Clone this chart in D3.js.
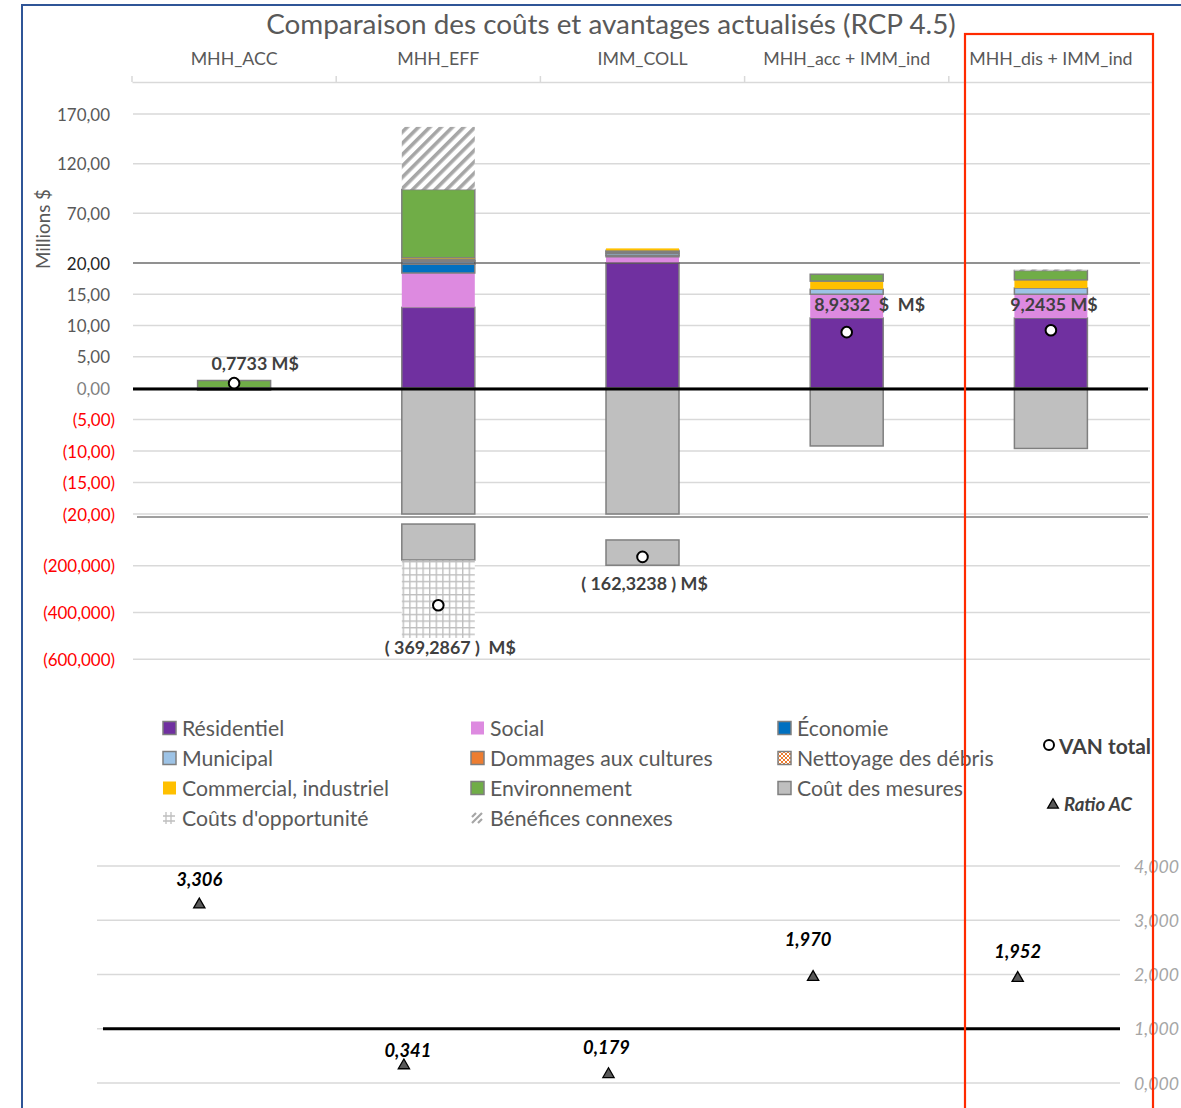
<!DOCTYPE html>
<html><head><meta charset="utf-8">
<script src="https://cdn.jsdelivr.net/npm/d3@7"></script>
<style>body{margin:0;background:#fff} svg{display:block} text{white-space:pre}</style>
</head><body>
<svg id="c" width="1181" height="1108"></svg>
<script>
// ---------------- DATA ----------------
const categories = ["MHH_ACC", "MHH_EFF", "IMM_COLL", "MHH_acc + IMM_ind", "MHH_dis + IMM_ind"];
const residentiel       = [0,    12.9, 20.0, 11.2, 11.2];
const social            = [0,     5.5,  6.3,  3.8,  3.8];
const economie          = [0,     1.4,  1.5,  0,    0];
const municipal         = [0,     2.0,  2.0,  0.8,  1.0];
const dommages          = [0,     0.8,  1.5,  0,    0];
const nettoyage         = [0,     1.4,  1.4,  0,    0];
const commercial        = [0,     1.2,  2.0,  1.3,  1.3];
const environnement     = [1.2,  68.8,  0,    1.1,  1.5];
const beneficesConnexes = [0,    63.0,  0,    0,    0.15];
const coutMesures       = [0.34, 175.6, 198.0, 9.2, 9.6];
const coutsOpportunite  = [0,   333.0,  0,    0,    0];
const lowerPanelFrom    = [null, -22, -90, null, null];
const vanTotal   = [0.7733, -369.2867, -162.3238, 8.9332, 9.2435];
const vanLabels  = ["0,7733 M$", "( 369,2867 )  M$", "( 162,3238 ) M$", "8,9332  $  M$", "9,2435 M$"];
const ratioAC    = [3.306, 0.341, 0.179, 1.970, 1.952];
const mainTicks  = [170, 120, 70, 20, 15, 10, 5, 0, -5, -10, -15, -20];
const lowerTicks = [-200, -400, -600];
const ratioTicks = [0, 1, 2, 3, 4];
const legendNames = {
  residentiel: "Résidentiel", social: "Social", economie: "Économie",
  municipal: "Municipal", dommages: "Dommages aux cultures", nettoyage: "Nettoyage des débris",
  commercial: "Commercial, industriel", environnement: "Environnement", cout: "Coût des mesures",
  opportunite: "Coûts d'opportunité", benefices: "Bénéfices connexes"
};
const title = "Comparaison des coûts et avantages actualisés (RCP 4.5)";
const yTitle = "Millions $";

// ---------------- LAYOUT / STYLE ----------------
const FONT = "Lato, 'Open Sans', sans-serif";
const svg = d3.select("#c");
const defs = svg.append("defs");
const STROKE = "#7f7f7f";

function fit(text, weight, style, target) {
  const t = svg.append("text").attr("font-family", FONT).attr("font-size", 100)
    .attr("font-weight", weight).attr("font-style", style).text(text);
  const w = t.node().getComputedTextLength(); t.remove();
  return 100 * target / w;
}

// patterns
const ph = defs.append("pattern").attr("id", "pHatch").attr("patternUnits", "userSpaceOnUse")
  .attr("width", 8).attr("height", 8).attr("patternTransform", "rotate(45)");
ph.append("rect").attr("width", 8).attr("height", 8).attr("fill", "#fff");
ph.append("rect").attr("width", 3.6).attr("height", 8).attr("fill", "#a6a6a6");
const pg = defs.append("pattern").attr("id", "pGrid").attr("patternUnits", "userSpaceOnUse")
  .attr("width", 6.6).attr("height", 6.6);
pg.append("rect").attr("width", 6.6).attr("height", 6.6).attr("fill", "#fff");
pg.append("rect").attr("width", 1.4).attr("height", 6.6).attr("fill", "#bfbfbf");
pg.append("rect").attr("width", 6.6).attr("height", 1.4).attr("fill", "#bfbfbf");
const pn = defs.append("pattern").attr("id", "pNet").attr("patternUnits", "userSpaceOnUse")
  .attr("width", 4).attr("height", 4);
pn.append("rect").attr("width", 4).attr("height", 4).attr("fill", "#fff");
pn.append("path").attr("d", "M0,0L4,4M4,0L0,4").attr("stroke", "#ed7d31").attr("stroke-width", 1);

const styles = {
  residentiel: { fill: "#7030a0", stroke: true },
  social: { fill: "#dd8ae0", stroke: false },
  economie: { fill: "#0070c0", stroke: true },
  municipal: { fill: "#9dc3e6", stroke: true },
  dommages: { fill: "#ed7d31", stroke: true },
  nettoyage: { fill: "url(#pNet)", stroke: true },
  commercial: { fill: "#ffc000", stroke: false },
  environnement: { fill: "#70ad47", stroke: true },
  benefices: { fill: "url(#pHatch)", stroke: false },
  cout: { fill: "#bfbfbf", stroke: true },
  opportunite: { fill: "url(#pGrid)", stroke: false }
};

// scales
const x = d3.scaleBand().domain(categories).range([132, 1153]);
const barW = 73;
const barX = c => x(c) + (x.bandwidth() - barW) / 2;
const yMain = d3.scaleLinear().domain([-20, 0, 20, 170]).range([514, 388, 263, 114]).clamp(true);
const yLow = d3.scaleLinear().domain([0, -600]).range([518.9, 659.3]);
const xR = d3.scaleBand().domain(categories).range([97, 1120]);
const yR = d3.scaleLinear().domain([0, 4]).range([1083, 866]);

const fmt2 = v => d3.format(".2f")(Math.abs(v)).replace(".", ",");
const fmt3 = v => d3.format(".3f")(Math.abs(v)).replace(".", ",");

// sizes
const fsTitle = fit(title, "normal", "normal", 690);
const fsCat = fit("MHH_acc + IMM_ind", "normal", "normal", 167);
const fsTick = fit("170,00", "normal", "normal", 53);
const fsLeg = fit("Commercial, industriel", "normal", "normal", 207);
const fsVan = fit("( 369,2867 )  M$", "bold", "normal", 131);
const fsRatio = fit("3,306", "bold", "italic", 46);
const fsRAxis = fit("4,000", "normal", "italic", 45);
const fsMil = fit(yTitle, "normal", "normal", 80);

// ---------------- TITLE & HEADER ----------------
svg.append("text").attr("x", 611).attr("y", 23).attr("text-anchor", "middle")
  .attr("dominant-baseline", "central").attr("font-family", FONT).attr("font-size", fsTitle)
  .attr("fill", "#595959").text(title);

const gTop = svg.append("g").attr("transform", "translate(0,82)");
gTop.call(d3.axisTop(x).tickSize(0).tickPadding(0).tickFormat(() => ""));
gTop.select(".domain").attr("stroke", "#d9d9d9").attr("stroke-width", 1.5);
gTop.selectAll(".bnd").data(categories.concat(["end"])).join("line").attr("class", "bnd")
  .attr("x1", d => d === "end" ? 1153 : x(d)).attr("x2", d => d === "end" ? 1153 : x(d))
  .attr("y1", -6).attr("y2", 0).attr("stroke", "#d9d9d9").attr("stroke-width", 1.5);
svg.selectAll(".cat").data(categories).join("text").attr("class", "cat")
  .attr("x", d => x(d) + x.bandwidth() / 2).attr("y", 58).attr("text-anchor", "middle")
  .attr("dominant-baseline", "central").attr("font-family", FONT).attr("font-size", fsCat)
  .attr("fill", "#595959").text(d => d);

// ---------------- MAIN AXES / GRID ----------------
const gGrid = svg.append("g");
gGrid.selectAll(".gm").data(mainTicks).join("line")
  .attr("x1", 133).attr("x2", 1150).attr("y1", d => yMain(d)).attr("y2", d => yMain(d))
  .attr("stroke", "#d9d9d9").attr("stroke-width", 1.5);
gGrid.selectAll(".gl").data(lowerTicks).join("line")
  .attr("x1", 133).attr("x2", 1150).attr("y1", d => yLow(d)).attr("y2", d => yLow(d))
  .attr("stroke", "#d9d9d9").attr("stroke-width", 1.5);

const gAx = svg.append("g").attr("font-family", FONT).attr("font-size", fsTick);
gAx.selectAll(".tm").data(mainTicks).join("text")
  .attr("x", d => d < 0 ? 115 : 110).attr("y", d => yMain(d)).attr("text-anchor", "end")
  .attr("dominant-baseline", "central")
  .attr("fill", d => d < 0 ? "#ff0000" : d === 20 ? "#262626" : d === 0 ? "#7f7f7f" : "#595959")
  .text(d => d < 0 ? "(" + fmt2(d) + ")" : fmt2(d));
gAx.selectAll(".tl").data(lowerTicks).join("text")
  .attr("x", 115).attr("y", d => yLow(d)).attr("text-anchor", "end")
  .attr("dominant-baseline", "central").attr("fill", "#ff0000")
  .text(d => "(" + fmt3(d) + ")");
svg.append("text").attr("transform", "translate(43,229) rotate(-90)").attr("text-anchor", "middle")
  .attr("dominant-baseline", "central").attr("font-family", FONT).attr("font-size", fsMil)
  .attr("fill", "#595959").text(yTitle);

// ---------------- BARS ----------------
const benefitKeys = ["residentiel", "social", "economie", "municipal", "dommages", "nettoyage", "commercial", "environnement", "benefices"];
const src = { residentiel, social, economie, municipal, dommages, nettoyage, commercial, environnement, benefices: beneficesConnexes };
const rows = categories.map((c, i) => {
  const r = { cat: c };
  benefitKeys.forEach(k => r[k] = src[k][i]);
  return r;
});
const series = d3.stack().keys(benefitKeys)(rows);
const gBars = svg.append("g");
series.forEach(s => {
  const st = styles[s.key];
  gBars.selectAll(null).data(s.filter(d => d[1] - d[0] > 0)).join("rect")
    .attr("x", d => barX(d.data.cat)).attr("width", barW)
    .attr("y", d => yMain(d[1])).attr("height", d => yMain(d[0]) - yMain(d[1]))
    .attr("fill", st.fill).attr("stroke", st.stroke ? STROKE : "none").attr("stroke-width", 1.5);
});
// costs (middle panel)
gBars.selectAll(".cm").data(categories).join("rect")
  .attr("x", d => barX(d)).attr("width", barW)
  .attr("y", yMain(0)).attr("height", (d, i) => yMain(-coutMesures[i]) - yMain(0))
  .attr("fill", styles.cout.fill).attr("stroke", STROKE).attr("stroke-width", 1.5);
// costs (lower panel)
const lowRows = categories.map((c, i) => ({ c, from: lowerPanelFrom[i], cost: coutMesures[i], opp: coutsOpportunite[i] }))
  .filter(d => d.from !== null);
gBars.selectAll(".cl").data(lowRows).join("rect")
  .attr("x", d => barX(d.c)).attr("width", barW)
  .attr("y", d => yLow(d.from)).attr("height", d => yLow(-d.cost) - yLow(d.from))
  .attr("fill", styles.cout.fill).attr("stroke", STROKE).attr("stroke-width", 1.5);
gBars.selectAll(".op").data(lowRows.filter(d => d.opp > 0)).join("rect")
  .attr("x", d => barX(d.c)).attr("width", barW)
  .attr("y", d => yLow(-d.cost) + 0.75).attr("height", d => yLow(-d.cost - d.opp) - yLow(-d.cost) - 0.75)
  .attr("fill", styles.opportunite.fill);

// boundary lines
svg.append("line").attr("x1", 133).attr("x2", 1140).attr("y1", yMain(20)).attr("y2", yMain(20))
  .attr("stroke", "#404040").attr("stroke-width", 1);
svg.append("line").attr("x1", 133).attr("x2", 1148).attr("y1", yMain(0) + 1).attr("y2", yMain(0) + 1)
  .attr("stroke", "#000").attr("stroke-width", 3);
svg.append("line").attr("x1", 137).attr("x2", 1148).attr("y1", yMain(-20) + 3).attr("y2", yMain(-20) + 3)
  .attr("stroke", "#404040").attr("stroke-width", 1);

// ---------------- VAN DOTS & LABELS ----------------
const vanLabelOffset = [[21, -20], [12, 42], [2, 26], [23, -28], [3, -26]];
const yVan = v => v >= -20 ? yMain(v) : yLow(v);
svg.selectAll(".van").data(categories).join("circle")
  .attr("cx", d => x(d) + x.bandwidth() / 2).attr("cy", (d, i) => yVan(vanTotal[i])).attr("r", 5.3)
  .attr("fill", "#fff").attr("stroke", "#000").attr("stroke-width", 2);
svg.selectAll(".vanl").data(categories).join("text")
  .attr("x", (d, i) => x(d) + x.bandwidth() / 2 + vanLabelOffset[i][0])
  .attr("y", (d, i) => yVan(vanTotal[i]) + vanLabelOffset[i][1])
  .attr("text-anchor", "middle").attr("dominant-baseline", "central")
  .attr("font-family", FONT).attr("font-weight", "bold").attr("font-size", fsVan)
  .attr("fill", "#404040").text((d, i) => vanLabels[i]);

// ---------------- LEGEND ----------------
const legendLayout = [
  ["residentiel", "social", "economie"],
  ["municipal", "dommages", "nettoyage"],
  ["commercial", "environnement", "cout"],
  ["opportunite", "benefices"]
];
const colX = [163, 471, 778], rowY = [728, 758, 788, 818];
const gLeg = svg.append("g").attr("font-family", FONT).attr("font-size", fsLeg).attr("fill", "#595959");
legendLayout.forEach((row, ri) => row.forEach((k, ci) => {
  const st = styles[k];
  const sx = colX[ci], sy = rowY[ri];
  if (k === "opportunite") {
    gLeg.append("path").attr("d", `M${sx + 3},${sy - 6}V${sy + 6}M${sx + 8},${sy - 6}V${sy + 6}M${sx},${sy - 2}H${sx + 12}M${sx},${sy + 3}H${sx + 12}`)
      .attr("stroke", "#bfbfbf").attr("stroke-width", 1.3).attr("fill", "none");
  } else if (k === "benefices") {
    gLeg.append("path").attr("d", `M${sx + 1},${sy + 5}L${sx + 11},${sy - 5}M${sx + 1},${sy - 1}L${sx + 5},${sy - 5}M${sx + 7},${sy + 5}L${sx + 11},${sy + 1}`)
      .attr("stroke", "#a6a6a6").attr("stroke-width", 2.2).attr("fill", "none");
  } else {
    gLeg.append("rect").attr("x", sx).attr("y", sy - 6.5).attr("width", 13).attr("height", 13)
      .attr("fill", st.fill).attr("stroke", st.stroke ? STROKE : "none").attr("stroke-width", 1.5);
  }
  gLeg.append("text").attr("x", sx + 19).attr("y", sy).attr("dominant-baseline", "central").text(legendNames[k]);
}));
// VAN total / Ratio AC legend
svg.append("circle").attr("cx", 1049).attr("cy", 745).attr("r", 5).attr("fill", "#fff").attr("stroke", "#000").attr("stroke-width", 2);
svg.append("text").attr("x", 1059).attr("y", 745).attr("dominant-baseline", "central")
  .attr("font-family", FONT).attr("font-weight", "bold").attr("font-size", fit("VAN total", "bold", "normal", 92))
  .attr("fill", "#404040").text("VAN total");
svg.append("path").attr("d", d3.symbol(d3.symbolTriangle, 50)()).attr("transform", "translate(1053,805)")
  .attr("fill", "#595959").attr("stroke", "#000").attr("stroke-width", 1.3);
svg.append("text").attr("x", 1064).attr("y", 804).attr("dominant-baseline", "central")
  .attr("font-family", FONT).attr("font-weight", "bold").attr("font-style", "italic")
  .attr("font-size", fit("Ratio AC", "bold", "italic", 68)).attr("fill", "#404040").text("Ratio AC");

// ---------------- RATIO CHART ----------------
const gR = svg.append("g");
gR.selectAll(".rg").data(ratioTicks).join("line")
  .attr("x1", 97).attr("x2", 1120).attr("y1", d => yR(d)).attr("y2", d => yR(d))
  .attr("stroke", "#d9d9d9").attr("stroke-width", 1.5);
gR.append("line").attr("x1", 103).attr("x2", 1120).attr("y1", yR(1)).attr("y2", yR(1))
  .attr("stroke", "#000").attr("stroke-width", 3);
gR.selectAll(".rt").data(ratioTicks).join("text")
  .attr("x", 1134).attr("y", d => yR(d)).attr("dominant-baseline", "central")
  .attr("font-family", FONT).attr("font-style", "italic").attr("font-size", fsRAxis)
  .attr("fill", "#a6a6a6").text(d => fmt3(d));
gR.selectAll(".tri").data(categories).join("path")
  .attr("d", d3.symbol(d3.symbolTriangle, 55)())
  .attr("transform", (d, i) => `translate(${xR(d) + xR.bandwidth() / 2},${yR(ratioAC[i]) + 1})`)
  .attr("fill", "#595959").attr("stroke", "#000").attr("stroke-width", 1.3);
const ratioLabelOffset = [[0, -25], [4, -15], [-2, -26], [-5, -37], [0, -26]];
gR.selectAll(".rl").data(categories).join("text")
  .attr("x", (d, i) => xR(d) + xR.bandwidth() / 2 + ratioLabelOffset[i][0])
  .attr("y", (d, i) => yR(ratioAC[i]) + ratioLabelOffset[i][1])
  .attr("text-anchor", "middle").attr("dominant-baseline", "central")
  .attr("font-family", FONT).attr("font-weight", "bold").attr("font-style", "italic")
  .attr("font-size", fsRatio).attr("fill", "#000").text((d, i) => fmt3(ratioAC[i]));

// ---------------- FRAMES ----------------
svg.append("path").attr("d", "M22,1108V5H1181").attr("fill", "none").attr("stroke", "#2f5597").attr("stroke-width", 2);
svg.append("rect").attr("x", 965).attr("y", 34).attr("width", 188).attr("height", 1100)
  .attr("fill", "none").attr("stroke", "#ff2a00").attr("stroke-width", 2.2);
</script>
</body></html>
